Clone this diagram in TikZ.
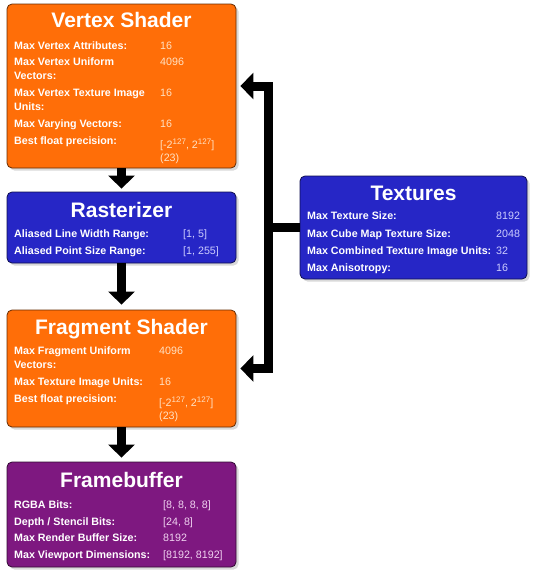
\documentclass[tikz,border=0pt]{standalone}
\usepackage{fontspec}
\setmainfont{Liberation Sans}
\usetikzlibrary{arrows.meta,shadows}
\definecolor{orangefill}{RGB}{255,110,8}
\definecolor{bluefill}{RGB}{38,38,198}
\definecolor{purplefill}{RGB}{126,24,128}
\definecolor{orangeval}{RGB}{255,226,196}
\definecolor{blueval}{RGB}{205,205,255}
\definecolor{purpleval}{RGB}{240,210,240}
\newcommand{\supnum}[1]{\raisebox{3.6pt}{\fontsize{8}{9}\selectfont #1}}
\tikzset{
 panel/.style={rectangle, rounded corners=5pt, draw=#1!40!black, line width=0.8pt, fill=#1,
   drop shadow={shadow xshift=2.5pt, shadow yshift=-2.5pt, opacity=0.3}, inner sep=0pt},
 ttl/.style={anchor=base, inner sep=0pt, text=white, font=\fontsize{21}{24}\selectfont\bfseries},
 lbl/.style={anchor=base west, inner sep=0pt, text=white, font=\fontsize{10.7}{12}\selectfont\bfseries},
 val/.style={anchor=base west, inner sep=0pt, text=#1, font=\fontsize{10.7}{12}\selectfont},
 flow/.style={line width=9pt, -{Triangle[width=26pt,length=13pt]}, line join=miter},
}
\begin{document}
\begin{tikzpicture}[x=1pt,y=-1pt]
\useasboundingbox (0,0) rectangle (540,573);
% panels
\node[panel=orangefill, minimum width=229pt, minimum height=164pt] (vs) at (121.5,86) {};
\node[panel=bluefill, minimum width=229pt, minimum height=71pt] (rast) at (121.5,227.5) {};
\node[panel=orangefill, minimum width=229pt, minimum height=117pt] (fs) at (121.5,368.5) {};
\node[panel=purplefill, minimum width=229pt, minimum height=105pt] (fb) at (121.5,514.5) {};
\node[panel=bluefill, minimum width=227pt, minimum height=103pt] (tex) at (413.5,227.5) {};
% connectors
\draw[flow, shorten >=3pt] (vs.south) -- (rast.north);
\draw[flow, shorten >=5pt] (rast.south) -- (fs.north);
\draw[flow, shorten >=4pt] (fs.south) -- (fb.north);
\coordinate (jn) at (268,227.5);
\draw[flow, shorten >=4pt] (tex.west) -- (jn) |- (vs.east);
\draw[flow, shorten >=4pt] (jn) |- (fs.east);
% Vertex Shader
\node[ttl] (vst) at (121.5,27.5) {Vertex Shader};
\node[lbl] (vs1) at (14,49) {Max Vertex Attributes:};
\node[lbl] (vs2) at (14,65.5) {Max Vertex Uniform};
\node[lbl] (vs2b) at (14,79) {Vectors:};
\node[lbl] (vs3) at (14,96) {Max Vertex Texture Image};
\node[lbl] (vs3b) at (14,110) {Units:};
\node[lbl] (vs4) at (14,127) {Max Varying Vectors:};
\node[lbl] (vs5) at (14,144) {Best float precision:};
\node[val=orangeval] (vv1) at (160,49) {16};
\node[val=orangeval] (vv2) at (160,65.5) {4096};
\node[val=orangeval] (vv3) at (160,96) {16};
\node[val=orangeval] (vv4) at (160,127) {16};
\node[val=orangeval] (vv5) at (160,148.5) {[-2\supnum{127}, 2\supnum{127}]};
\node[val=orangeval] (vv5b) at (160,161) {(23)};
% Rasterizer
\node[ttl] (rt) at (121.5,217.7) {Rasterizer};
\node[lbl] (r1) at (14,237.7) {Aliased Line Width Range:};
\node[lbl] (r2) at (14,254.3) {Aliased Point Size Range:};
\node[val=blueval] (rv1) at (183,237.7) {[1, 5]};
\node[val=blueval] (rv2) at (183,254.3) {[1, 255]};
% Fragment Shader
\node[ttl] (fst) at (121.5,334) {Fragment Shader};
\node[lbl] (f1) at (14,354.7) {Max Fragment Uniform};
\node[lbl] (f1b) at (14,368) {Vectors:};
\node[lbl] (f2) at (14,385) {Max Texture Image Units:};
\node[lbl] (f3) at (14,402) {Best float precision:};
\node[val=orangeval] (fv1) at (159,354.7) {4096};
\node[val=orangeval] (fv2) at (159,385) {16};
\node[val=orangeval] (fv3) at (159,406.5) {[-2\supnum{127}, 2\supnum{127}]};
\node[val=orangeval] (fv3b) at (159,419) {(23)};
% Framebuffer
\node[ttl] (fbt) at (121.5,487.7) {Framebuffer};
\node[lbl] (b1) at (14,508.3) {RGBA Bits:};
\node[lbl] (b2) at (14,525) {Depth / Stencil Bits:};
\node[lbl] (b3) at (14,541.7) {Max Render Buffer Size:};
\node[lbl] (b4) at (14,558.3) {Max Viewport Dimensions:};
\node[val=purpleval] (bv1) at (163,508.3) {[8, 8, 8, 8]};
\node[val=purpleval] (bv2) at (163,525) {[24, 8]};
\node[val=purpleval] (bv3) at (163,541.7) {8192};
\node[val=purpleval] (bv4) at (163,558.3) {[8192, 8192]};
% Textures
\node[ttl] (tt) at (413.5,200) {Textures};
\node[lbl] (t1) at (307,219.7) {Max Texture Size:};
\node[lbl] (t2) at (307,237) {Max Cube Map Texture Size:};
\node[lbl] (t3) at (307,254) {Max Combined Texture Image Units:};
\node[lbl] (t4) at (307,271) {Max Anisotropy:};
\node[val=blueval] (tv1) at (496,219.7) {8192};
\node[val=blueval] (tv2) at (496,237) {2048};
\node[val=blueval] (tv3) at (496,254) {32};
\node[val=blueval] (tv4) at (496,271) {16};
\end{tikzpicture}
\end{document}
